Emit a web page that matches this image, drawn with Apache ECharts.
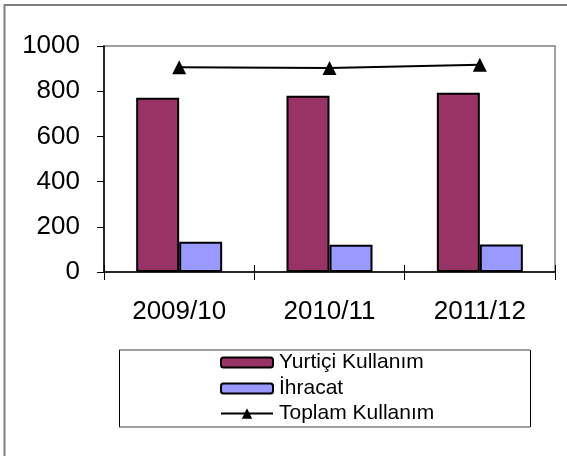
<!DOCTYPE html>
<html>
<head>
<meta charset="utf-8">
<script src="https://cdn.jsdelivr.net/npm/echarts@6/dist/echarts.min.js"></script>
<style>
html, body { margin: 0; padding: 0; background: #fff; }
#chart { width: 567px; height: 456px; }
</style>
</head>
<body>
<div id="chart"></div>
<script>
// chart data
var categories = ['2009/10', '2010/11', '2011/12'];
var yurtici = [771, 780, 793];
var ihracat = [134, 121, 122];
var toplam = [906, 903, 917];

var FONT = '"Liberation Sans", Arial, sans-serif';

var chart = echarts.init(document.getElementById('chart'));

var legendText = { fontFamily: FONT, fontSize: 21, color: '#000', padding: [0, 0, 0, 1] };

var option = {
	animation: false,
	backgroundColor: '#fff',
	textStyle: { fontFamily: FONT, color: '#000' },
	grid: {
		left: 104, top: 46, width: 451, height: 226,
		show: true,
		borderColor: '#808080',
		borderWidth: 1.5,
		backgroundColor: 'transparent'
	},
	// outer frame + legend box
	graphic: [
		{ type: 'rect', shape: { x: 4.5, y: 5, width: 700, height: 700 }, style: { fill: 'none', stroke: '#808080', lineWidth: 2 }, silent: true },
		{ type: 'line', shape: { x1: 119, y1: 350, x2: 530, y2: 350 }, style: { stroke: '#808080', lineWidth: 1.5 } },
		{ type: 'line', shape: { x1: 119, y1: 427, x2: 530, y2: 427 }, style: { stroke: '#808080', lineWidth: 1.5 } },
		{ type: 'line', shape: { x1: 119.5, y1: 350, x2: 119.5, y2: 427 }, style: { stroke: '#000', lineWidth: 1 } },
		{ type: 'line', shape: { x1: 530.5, y1: 350, x2: 530.5, y2: 427 }, style: { stroke: '#000', lineWidth: 1 } }
	],
	// two legends so the line icon can get a bigger triangle than the bar boxes are tall
	legend: [
		{
			orient: 'vertical',
			left: 220,
			top: 352,
			padding: 0,
			itemGap: 5,
			itemWidth: 52,
			itemHeight: 10,
			textStyle: legendText,
			data: ['Yurtiçi Kullanım', 'İhracat']
		},
		{
			orient: 'vertical',
			left: 220,
			top: 403,
			padding: 0,
			itemWidth: 52,
			itemHeight: 13,
			textStyle: legendText,
			data: ['Toplam Kullanım']
		}
	],
	xAxis: [
		{
			type: 'category',
			data: categories,
			axisLine: { lineStyle: { color: '#000', width: 1.5 } },
			axisTick: { show: true, length: 8, lineStyle: { color: '#000' } },
			axisLabel: { fontFamily: FONT, fontSize: 26, color: '#000', margin: 27 }
		},
		{
			// inside half of the crossing ticks
			type: 'category',
			data: categories,
			position: 'bottom',
			axisLine: { show: false },
			axisTick: { show: true, inside: true, length: 7, lineStyle: { color: '#000' } },
			axisLabel: { show: false }
		}
	],
	yAxis: {
		type: 'value',
		min: 0,
		max: 1000,
		interval: 200,
		axisLine: { show: true, lineStyle: { color: '#000', width: 1.5 } },
		axisTick: { show: true, length: 7, lineStyle: { color: '#000' } },
		splitLine: { show: false },
		axisLabel: {
			fontFamily: FONT, fontSize: 26, color: '#000', margin: 24,
			formatter: function (v) { return String(v); }
		}
	},
	series: [
		{
			name: 'Yurtiçi Kullanım',
			type: 'bar',
			data: yurtici,
			barWidth: 43,
			barGap: '0%',
			itemStyle: { color: '#993366', borderColor: '#000', borderWidth: 2 }
		},
		{
			name: 'İhracat',
			type: 'bar',
			data: ihracat,
			barWidth: 43,
			barGap: '0%',
			itemStyle: { color: '#9999FF', borderColor: '#000', borderWidth: 2 }
		},
		{
			name: 'Toplam Kullanım',
			type: 'line',
			data: toplam,
			symbol: 'triangle',
			symbolSize: 14,
			z: 5,
			lineStyle: { color: '#000', width: 2 },
			itemStyle: { color: '#000' }
		}
	]
};
chart.setOption(option);
</script>
</body>
</html>
